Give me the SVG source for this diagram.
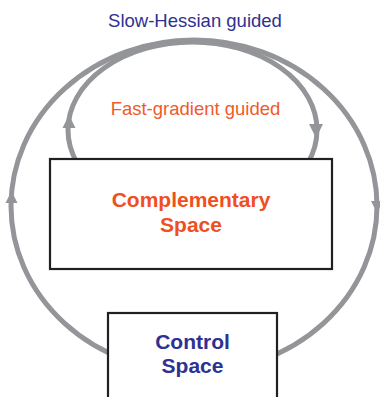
<svg xmlns="http://www.w3.org/2000/svg" width="380" height="397" viewBox="0 0 380 397">
<style>
.loop{fill:none;stroke:#939598;stroke-width:5}
.head{fill:#939598}
.box{fill:#fff;stroke:#231f20;stroke-width:2.2}
.t{font-family:"Liberation Sans",Arial,sans-serif;text-anchor:middle}
.b{font-weight:bold;font-size:21px}
</style>
<rect width="380" height="397" fill="#fff"/>
<g id="connectors">
<ellipse class="loop" cx="194" cy="206" rx="183" ry="166"/>
<ellipse class="loop" cx="192.5" cy="130" rx="124.5" ry="88"/>
<polygon class="head" points="11.5,191 5.5,203 17.5,203"/>
<polygon class="head" points="377,213 371,201 383,201"/>
<polygon class="head" points="69,115 62.5,128 75.5,128"/>
<polygon class="head" points="316,138 309,124 323,124"/>
</g>
<text class="t" x="195" y="27" font-size="18.5" fill="#2e3192">Slow-Hessian guided</text>
<text class="t" x="195.5" y="115" font-size="18.5" fill="#f15a29">Fast-gradient guided</text>
<g id="complementary">
<rect class="box" x="50" y="159" width="282" height="110"/>
<text class="t b" x="191" y="207" fill="#f04e23">Complementary</text>
<text class="t b" x="191" y="232" fill="#f04e23">Space</text>
</g>
<g id="control">
<rect class="box" x="108" y="313" width="169" height="100"/>
<text class="t b" x="192.5" y="349" fill="#2e3192">Control</text>
<text class="t b" x="192.5" y="373" fill="#2e3192">Space</text>
</g>
</svg>
